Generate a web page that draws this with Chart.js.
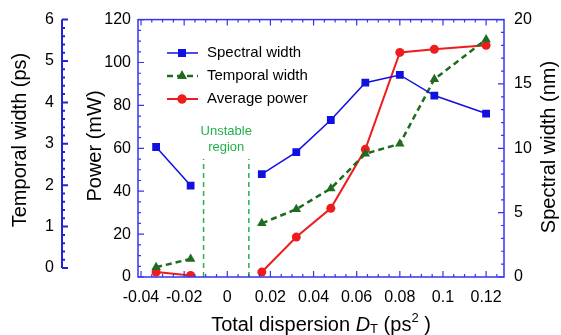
<!DOCTYPE html>
<html lang="en">
<head>
    <meta charset="UTF-8">
    <title>Dispersion chart</title>
    <script src="https://cdn.jsdelivr.net/npm/chart.js"></script>
    <style>
        body {
            margin: 0;
            padding: 0;
            background-color: #fff;
        }
        .wrap {
            width: 561px;
            height: 335px;
        }
    </style>
</head>
<body>
    <div class="wrap">
        <canvas id="chart"></canvas>
    </div>

    <script>
        // data
        const dispersion = [-0.033, -0.017, 0.016, 0.032, 0.048, 0.064, 0.080, 0.096, 0.120];
        const spectralWidth = [10.1, 7.1, 8.0, 9.7, 12.2, 15.1, 15.7, 14.1, 12.7];   // nm
        const temporalWidth = [0.02, 0.22, 1.08, 1.42, 1.92, 2.76, 3.0, 4.56, 5.52]; // ps
        const avgPower = [2.3, 0.7, 2.3, 18.6, 32, 59.5, 104.7, 106.2, 108];         // mW
        const gapIndex = 2;      // line is broken before this point (unstable region)
        const unstableBounds = [-0.011, 0.010];
        const unstableTop = 55;  // mW

        const xTicks = [-0.04, -0.02, 0, 0.02, 0.04, 0.06, 0.08, 0.1, 0.12];
        const powerTicks = [0, 20, 40, 60, 80, 100, 120];
        const temporalTicks = [0, 1, 2, 3, 4, 5, 6];
        const spectralTicks = [0, 5, 10, 15, 20];

        const FONT = '"Liberation Sans", Arial, sans-serif';
        const FRAME = '#3434f0';
        const GREEN = '#22b04b';

        function series(vals) {
            const pts = [];
            vals.forEach((v, i) => {
                if (i === gapIndex) pts.push({ x: 0, y: null });
                pts.push({ x: dispersion[i], y: v });
            });
            return pts;
        }

        function fixTicks(list) {
            return scale => { scale.ticks = list.map(v => ({ value: v })); };
        }

        function drawTicks(ctx, scale, from, to, step, len, fn) {
            for (let v = from; v <= to + 1e-9; v += step) {
                fn(scale.getPixelForValue(v), len);
            }
        }

        const framePlugin = {
            id: 'frame',
            afterDatasetsDraw(chart) {
                const ctx = chart.ctx;
                const a = chart.chartArea;
                const sx = chart.scales.x, sp = chart.scales.yPow, ss = chart.scales.ySpec, st = chart.scales.yTemp;
                ctx.save();
                ctx.strokeStyle = FRAME;
                ctx.lineWidth = 1.5;
                ctx.strokeRect(a.left, a.top, a.right - a.left, a.bottom - a.top);
                ctx.lineWidth = 1.2;
                ctx.beginPath();
                const xTick = (p, len) => {
                    ctx.moveTo(p, a.bottom); ctx.lineTo(p, a.bottom - len);
                    ctx.moveTo(p, a.top); ctx.lineTo(p, a.top + len);
                };
                drawTicks(ctx, sx, -0.04, 0.125, 0.005, 3, xTick);
                drawTicks(ctx, sx, -0.04, 0.12, 0.02, 6, xTick);
                const pTick = (p, len) => { ctx.moveTo(a.left, p); ctx.lineTo(a.left + len, p); };
                drawTicks(ctx, sp, 0, 120, 5, 3, pTick);
                drawTicks(ctx, sp, 0, 120, 20, 6, pTick);
                const sTick = (p, len) => { ctx.moveTo(a.right, p); ctx.lineTo(a.right - len, p); };
                drawTicks(ctx, ss, 0, 20, 1, 3, sTick);
                drawTicks(ctx, ss, 0, 20, 5, 6, sTick);
                ctx.stroke();

                // detached temporal width axis
                const tx = st.right;
                ctx.strokeStyle = '#2222d8';
                ctx.lineWidth = 2;
                ctx.beginPath();
                ctx.moveTo(tx, st.getPixelForValue(0));
                ctx.lineTo(tx, st.getPixelForValue(6));
                const tTick = (p, len) => { ctx.moveTo(tx, p); ctx.lineTo(tx + len, p); };
                drawTicks(ctx, st, 0, 6, 0.2, 3, tTick);
                drawTicks(ctx, st, 0, 6, 1, 6, tTick);
                ctx.stroke();
                ctx.restore();
            },
            afterDraw(chart) {
                const ctx = chart.ctx;
                const a = chart.chartArea;
                const sx = chart.scales.x;
                ctx.save();
                ctx.fillStyle = '#000';
                ctx.textBaseline = 'middle';

                // legend inside plot
                const rows = [53, 76, 99];
                chart.data.datasets.slice(0, 3).forEach((ds, i) => {
                    const y = rows[i];
                    ctx.save();
                    ctx.strokeStyle = ds.borderColor;
                    ctx.lineWidth = ds.borderWidth;
                    ctx.setLineDash(ds.borderDash || []);
                    ctx.beginPath();
                    ctx.moveTo(167, y);
                    ctx.lineTo(198, y);
                    ctx.stroke();
                    ctx.restore();
                    ctx.save();
                    ctx.fillStyle = ds.backgroundColor;
                    Chart.helpers.drawPoint(ctx, {
                        pointStyle: ds.pointStyle, radius: ds.pointRadius, rotation: 0, borderWidth: 0
                    }, 182, y);
                    ctx.fill();
                    ctx.restore();
                    ctx.font = '15px ' + FONT;
                    ctx.textAlign = 'left';
                    ctx.fillText(ds.label, 207, y);
                });

                // unstable region note
                ctx.fillStyle = GREEN;
                ctx.font = '13px ' + FONT;
                ctx.textAlign = 'center';
                const ux = sx.getPixelForValue((unstableBounds[0] + unstableBounds[1]) / 2);
                ctx.fillText('Unstable', ux, 131);
                ctx.fillText('region', ux, 147);

                // axis titles
                ctx.fillStyle = '#000';
                ctx.font = '20px ' + FONT;
                const vTitle = (text, x, y) => {
                    ctx.save();
                    ctx.translate(x, y);
                    ctx.rotate(-Math.PI / 2);
                    ctx.textAlign = 'center';
                    ctx.fillText(text, 0, 0);
                    ctx.restore();
                };
                vTitle('Temporal width (ps)', 20, 140);
                vTitle('Power (mW)', 95, 146);
                vTitle('Spectral width (nm)', 549, 147);

                // x title with italic D, subscript T, superscript 2
                const parts = [
                    { t: 'Total dispersion ', f: '20px ' + FONT, dy: 0 },
                    { t: 'D', f: 'italic 20px ' + FONT, dy: 0 },
                    { t: 'T', f: '13px ' + FONT, dy: 4 },
                    { t: ' (ps', f: '20px ' + FONT, dy: 0 },
                    { t: '2', f: '13px ' + FONT, dy: -7 },
                    { t: ' )', f: '20px ' + FONT, dy: 0 }
                ];
                let total = 0;
                parts.forEach(p => { ctx.font = p.f; p.w = ctx.measureText(p.t).width; total += p.w; });
                let x = (a.left + a.right) / 2 - total / 2;
                ctx.textAlign = 'left';
                parts.forEach(p => {
                    ctx.font = p.f;
                    ctx.fillText(p.t, x, 325 + p.dy);
                    x += p.w;
                });
                ctx.restore();
            }
        };

        const tickFont = { family: FONT, size: 16 };

        new Chart(document.getElementById('chart').getContext('2d'), {
            type: 'line',
            data: {
                datasets: [
                    {
                        label: 'Spectral width',
                        data: series(spectralWidth),
                        yAxisID: 'ySpec',
                        borderColor: '#1010e0',
                        backgroundColor: '#1010e0',
                        borderWidth: 1.5,
                        pointStyle: 'rect',
                        pointRadius: 5.5,
                        pointBorderWidth: 0
                    },
                    {
                        label: 'Temporal width',
                        data: series(temporalWidth),
                        yAxisID: 'yTemp',
                        borderColor: '#1f6b1f',
                        backgroundColor: '#1f6b1f',
                        borderWidth: 2.5,
                        borderDash: [6, 4],
                        pointStyle: 'triangle',
                        pointRadius: 5.5,
                        pointBorderWidth: 0
                    },
                    {
                        label: 'Average power',
                        data: series(avgPower),
                        yAxisID: 'yPow',
                        borderColor: '#ee1c1c',
                        backgroundColor: '#ee1c1c',
                        borderWidth: 2,
                        pointStyle: 'circle',
                        pointRadius: 4.5,
                        pointBorderWidth: 0
                    },
                    {
                        label: 'unstable-left',
                        data: [{ x: unstableBounds[0], y: 0 }, { x: unstableBounds[0], y: unstableTop }],
                        yAxisID: 'yPow',
                        borderColor: GREEN,
                        borderWidth: 1.5,
                        borderDash: [5, 4],
                        pointRadius: 0
                    },
                    {
                        label: 'unstable-right',
                        data: [{ x: unstableBounds[1], y: 0 }, { x: unstableBounds[1], y: unstableTop }],
                        yAxisID: 'yPow',
                        borderColor: GREEN,
                        borderWidth: 1.5,
                        borderDash: [5, 4],
                        pointRadius: 0
                    }
                ]
            },
            options: {
                responsive: true,
                maintainAspectRatio: false,
                animation: false,
                layout: { padding: { top: 19, left: 0, right: 0, bottom: 0 } },
                elements: { line: { tension: 0 } },
                plugins: {
                    legend: { display: false },
                    tooltip: { enabled: false }
                },
                scales: {
                    x: {
                        type: 'linear',
                        position: 'bottom',
                        min: -0.0414,
                        max: 0.1283,
                        grid: { display: false, drawTicks: false },
                        border: { display: false },
                        ticks: { font: tickFont, color: '#000', padding: 11, maxRotation: 0, callback: v => String(v) },
                        afterBuildTicks: fixTicks(xTicks),
                        afterFit: s => { s.height = 58; }
                    },
                    yPow: {
                        position: 'left',
                        weight: 0,
                        min: 0,
                        max: 120,
                        grid: { display: false, drawTicks: false },
                        border: { display: false },
                        ticks: { font: tickFont, color: '#000', padding: 7, callback: v => String(v) },
                        afterBuildTicks: fixTicks(powerTicks),
                        afterFit: s => { s.width = 76; }
                    },
                    yTemp: {
                        position: 'left',
                        weight: 1,
                        min: -0.217,
                        max: 6,
                        grid: { display: false, drawTicks: false },
                        border: { display: false },
                        ticks: { font: tickFont, color: '#000', padding: 8, callback: v => String(v) },
                        afterBuildTicks: fixTicks(temporalTicks),
                        afterFit: s => { s.width = 62; }
                    },
                    ySpec: {
                        position: 'right',
                        min: 0,
                        max: 20,
                        grid: { display: false, drawTicks: false },
                        border: { display: false },
                        ticks: { font: tickFont, color: '#000', padding: 10, callback: v => String(v) },
                        afterBuildTicks: fixTicks(spectralTicks),
                        afterFit: s => { s.width = 57; }
                    }
                }
            },
            plugins: [framePlugin]
        });
    </script>
</body>
</html>
